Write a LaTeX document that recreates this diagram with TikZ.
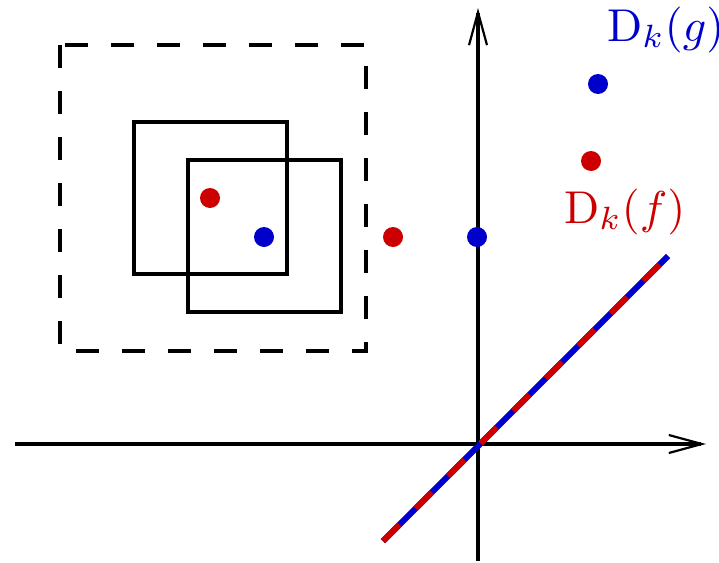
\RequirePackage{fix-cm}
\documentclass[tikz,border=0pt]{standalone}
\usepackage{graphicx}
\usetikzlibrary{arrows.meta}
\definecolor{myblue}{RGB}{0,0,204}
\definecolor{myred}{RGB}{204,0,0}
\newcommand{\biglab}[1]{\scalebox{4.6}{$#1$}}
\begin{document}
\begin{tikzpicture}[x=1pt,y=-1pt,
  axis/.style={line width=3.3pt,-{Straight Barb[length=33pt,width=18pt,line width=2.2pt]}},
  box/.style={line width=3.5pt},
  dbox/.style={line width=3.3pt,dash pattern=on 23pt off 23pt},
  bdot/.style={circle,fill=myblue,inner sep=0pt,minimum size=20pt},
  rdot/.style={circle,fill=myred,inner sep=0pt,minimum size=20pt},
  lab/.style={anchor=base west,inner sep=0pt}]
\useasboundingbox (0,0) rectangle (719,562);
% axes
\coordinate (o) at (478,444);
\coordinate (xs) at (15,444);
\coordinate (xe) at (706,444);
\coordinate (ys) at (478,561);
\coordinate (ye) at (478,8);
\draw[axis] (xs) -- (xe);
\draw[axis] (ys) -- (ye);
% boxes
\draw[dbox] (60,45) rectangle (366,351);
\draw[box] (134,122) rectangle (287,274);
\draw[box] (188,160) rectangle (341,312);
% diagonal
\coordinate (d1) at (383,541);
\coordinate (d2) at (668,256);
\draw[myblue,line width=6pt] (d1) -- (d2);
\draw[myred,line width=6pt,dash pattern=on 23pt off 23pt] (d1) -- (d2);
% dots
\node[rdot] (r1) at (210,198) {};
\node[bdot] (b1) at (264,237) {};
\node[rdot] (r2) at (393,237) {};
\node[bdot] (b2) at (477,237) {};
\node[rdot] (r3) at (591,161) {};
\node[bdot] (b3) at (598,84) {};
% labels
\node[lab,text=myblue] (lg) at (607,41) {\biglab{\mathrm{D}_k(g)}};
\node[lab,text=myred] (lf) at (564,223) {\biglab{\mathrm{D}_k(f)}};
\end{tikzpicture}
\end{document}
